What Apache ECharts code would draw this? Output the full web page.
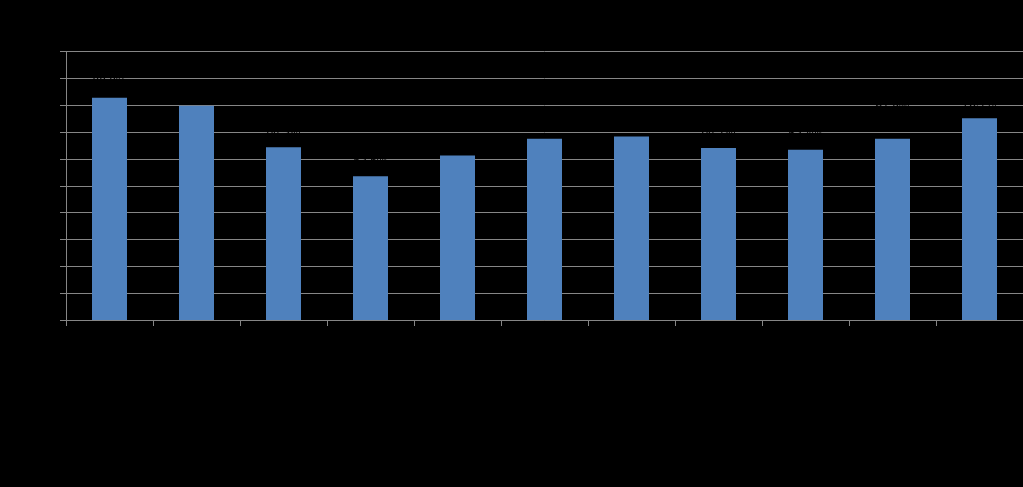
<!DOCTYPE html>
<html>
<head>
<meta charset="utf-8">
<script src="https://cdn.jsdelivr.net/npm/echarts@6/dist/echarts.min.js"></script>
<style>
html,body{margin:0;padding:0;background:#000;}
#chart{width:1023px;height:487px;}
</style>
</head>
<body>
<div id="chart"></div>
<script>
var categories = ['1', '2', '3', '4', '5', '6', '7', '8', '9', '10', '11'];
var values = [82.8, 79.8, 64.3, 53.5, 61.3, 67.5, 68.3, 64.1, 63.4, 67.5, 75.1];
var yTicks = { min: 0, max: 100, interval: 10 };

var seriesData = values.map(function (v, i) {
  var item = { value: v };
  if (i === 9) { item.label = { distance: 26 }; }
  return item;
});

var chart = echarts.init(document.getElementById('chart'));
chart.setOption({
  backgroundColor: '#000000',
  animation: false,
  grid: { left: 66, right: 0, top: 51.5, bottom: 167 },
  xAxis: {
    type: 'category',
    data: categories,
    boundaryGap: true,
    axisLine: { show: true, lineStyle: { color: '#868686', width: 1 } },
    axisTick: { show: true, alignWithLabel: false, length: 6, lineStyle: { color: '#868686' } },
    axisLabel: { color: '#000000', fontFamily: 'Liberation Sans', fontSize: 12, rotate: 0 }
  },
  yAxis: {
    type: 'value',
    min: yTicks.min,
    max: yTicks.max,
    interval: yTicks.interval,
    axisLine: { show: true, lineStyle: { color: '#868686', width: 1 } },
    axisTick: { show: true, length: 6, lineStyle: { color: '#868686' } },
    splitLine: { show: true, lineStyle: { color: '#868686', width: 1 } },
    axisLabel: { color: '#000000', fontFamily: 'Liberation Sans', fontSize: 11, formatter: '{value}%' }
  },
  series: [{
    type: 'bar',
    data: seriesData,
    barWidth: 35,
    itemStyle: { color: '#4f81bd' },
    label: {
      show: true,
      position: 'top',
      distance: 9,
      color: '#000000',
      fontFamily: 'Liberation Sans',
      fontSize: 12,
      formatter: function (p) { return p.value.toFixed(1) + '%'; }
    }
  }]
});
</script>
</body>
</html>
